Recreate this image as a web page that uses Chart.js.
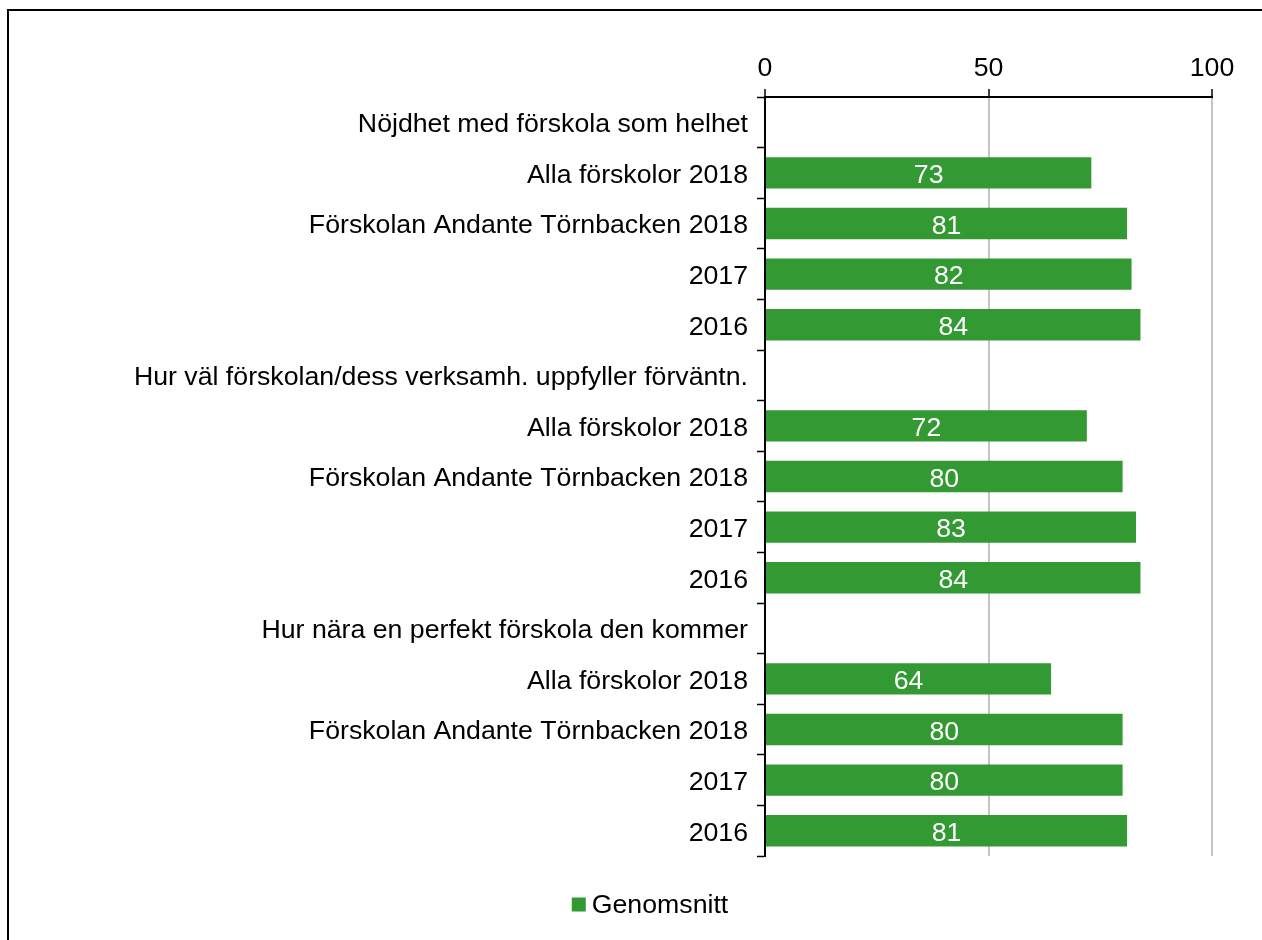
<!DOCTYPE html>
<html>
<head>
<meta charset="utf-8">
<script src="https://cdn.jsdelivr.net/npm/chart.js@4.4.1/dist/chart.umd.min.js"></script>
<style>
  html, body { margin: 0; padding: 0; background: #fff; overflow: hidden; width: 1262px; height: 940px; }
  #frame { position: absolute; left: 7px; top: 9px; width: 1400px; height: 1000px; border-left: 2px solid #000; border-top: 2px solid #000; }
  #wrap { position: absolute; left: 0; top: 0; width: 1300px; height: 940px; }
</style>
</head>
<body>
<div id="frame"></div>
<div id="wrap"><canvas id="c" width="1300" height="940"></canvas></div>
<script>
const categories = [
  "Nöjdhet med förskola som helhet",
  "Alla förskolor 2018",
  "Förskolan Andante Törnbacken 2018",
  "2017",
  "2016",
  "Hur väl förskolan/dess verksamh. uppfyller förväntn.",
  "Alla förskolor 2018",
  "Förskolan Andante Törnbacken 2018",
  "2017",
  "2016",
  "Hur nära en perfekt förskola den kommer",
  "Alla förskolor 2018",
  "Förskolan Andante Törnbacken 2018",
  "2017",
  "2016"
];
const genomsnitt = [null, 73, 81, 82, 84, null, 72, 80, 83, 84, null, 64, 80, 80, 81];
const xTicks = [0, 50, 100];
const seriesName = "Genomsnitt";

const FONT = "'Liberation Sans', Arial, sans-serif";
const FS = 26.7;
Chart.defaults.font.family = FONT;
Chart.defaults.font.size = FS;
Chart.defaults.color = "#000";

const valueLabels = {
  id: "valueLabels",
  afterDatasetsDraw(chart) {
    const ctx = chart.ctx;
    const meta = chart.getDatasetMeta(0);
    ctx.save();
    ctx.fillStyle = "#fff";
    ctx.font = FS + "px " + FONT;
    ctx.textAlign = "center";
    ctx.textBaseline = "middle";
    meta.data.forEach((bar, i) => {
      const v = chart.data.datasets[0].data[i];
      if (v === null || v === undefined) return;
      const cx = (bar.x + bar.base) / 2;
      ctx.fillText(String(v), cx, bar.y + 3);
    });
    ctx.restore();
  }
};

// Legend drawn from the dataset's label and colour, centred under the frame
const customLegend = {
  id: "customLegend",
  afterDraw(chart) {
    const ctx = chart.ctx;
    const ds = chart.data.datasets[0];
    ctx.save();
    ctx.font = FS + "px " + FONT;
    const box = 14, gap = 6;
    const tw = ctx.measureText(ds.label).width;
    const total = box + gap + tw;
    const cx = chart.width / 2;
    const cy = 904.5;
    const x0 = cx - total / 2;
    ctx.fillStyle = ds.backgroundColor;
    ctx.fillRect(x0, cy - box / 2, box, box);
    ctx.fillStyle = "#000";
    ctx.textAlign = "left";
    ctx.textBaseline = "middle";
    ctx.fillText(ds.label, x0 + box + gap, cy + 1.5);
    ctx.restore();
  }
};

new Chart(document.getElementById("c"), {
  type: "bar",
  data: {
    labels: categories,
    datasets: [{
      label: seriesName,
      data: genomsnitt,
      backgroundColor: "#339933",
      borderWidth: 0,
      barPercentage: 0.62,
      categoryPercentage: 1
    }]
  },
  options: {
    indexAxis: "y",
    responsive: false,
    animation: false,
    layout: { padding: { left: 0, right: 88, top: 0, bottom: 84 } },
    plugins: {
      legend: { display: false },
      tooltip: { enabled: false }
    },
    scales: {
      x: {
        position: "top",
        min: 0,
        max: 100,
        afterBuildTicks(scale) { scale.ticks = xTicks.map(v => ({ value: v })); },
        afterFit(scale) { scale.height = 97; },
        ticks: { padding: 4, color: "#000", font: { size: FS } },
        grid: {
          color: (c) => (c.tick && c.tick.value === 0) ? "rgba(0,0,0,0)" : "#c4c4c4",
          lineWidth: 2,
          tickColor: "#000",
          tickWidth: 1.5,
          tickLength: 8
        },
        border: { display: true, color: "#000", width: 2 }
      },
      y: {
        afterFit(scale) { scale.width = 765; },
        ticks: { padding: 9, labelOffset: 2.5, color: "#000", font: { size: FS } },
        grid: {
          offset: true,
          drawOnChartArea: false,
          drawTicks: true,
          tickLength: 8,
          tickColor: "#000",
          tickWidth: 1.5,
          color: "#000"
        },
        border: { display: true, color: "#000", width: 2 }
      }
    }
  },
  plugins: [valueLabels, customLegend]
});
</script>
</body>
</html>
